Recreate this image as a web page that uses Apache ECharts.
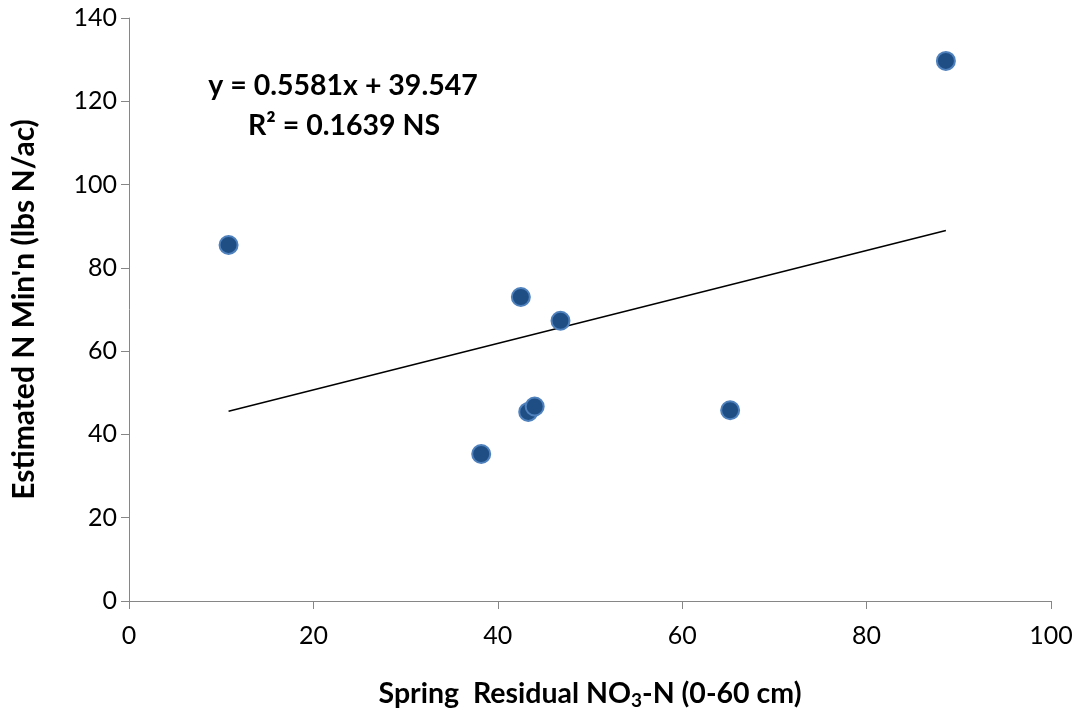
<!DOCTYPE html>
<html>
<head>
<meta charset="utf-8">
<script src="https://cdn.jsdelivr.net/npm/echarts@6/dist/echarts.min.js"></script>
<style>html,body{margin:0;padding:0;background:#fff}#c{width:1083px;height:712px}</style>
</head>
<body>
<div id="c"></div>
<script>
const xValues = [10.8, 38.2, 42.5, 43.3, 44.0, 46.8, 65.2, 88.6];
const yValues = [85.5, 35.3, 73.0, 45.4, 46.7, 67.3, 45.8, 129.7];
const slope = 0.5581;
const intercept = 39.547;
const trendRange = [10.8, 88.6];
const xTicks = [0, 20, 40, 60, 80, 100];
const yTicks = [0, 20, 40, 60, 80, 100, 120, 140];
const eqText = 'y = 0.5581x + 39.547';
const r2Text = 'R² = 0.1639 NS';

const points = xValues.map((x, i) => [x, yValues[i]]);
const trend = trendRange.map(x => [x, slope * x + intercept]);
const FONT = 'Lato, "Open Sans", sans-serif';

const chart = echarts.init(document.getElementById('c'), null, {renderer: 'canvas'});
chart.setOption({
  animation: false,
  grid: {left: 129, right: 32, top: 18, bottom: 111, containLabel: false, outerBoundsMode: 'none'},
  xAxis: {
    type: 'value', min: xTicks[0], max: xTicks[xTicks.length - 1], interval: 20,
    axisLine: {show: true, lineStyle: {color: '#868686', width: 1}},
    axisTick: {show: true, length: 8, lineStyle: {color: '#868686'}},
    splitLine: {show: false},
    axisLabel: {color: '#000', fontSize: 25, fontFamily: FONT, margin: 22},
    name: 'Spring  Residual NO{sub|3}-N (0-60 cm)',
    nameLocation: 'middle', nameGap: 76,
    nameTextStyle: {
      color: '#000', fontSize: 28.5, fontWeight: 'bold', fontFamily: FONT,
      rich: {sub: {fontSize: 19, fontWeight: 'bold', fontFamily: FONT, color: '#000', padding: [14, 0, 0, 0]}}
    }
  },
  yAxis: {
    type: 'value', min: yTicks[0], max: yTicks[yTicks.length - 1], interval: 20,
    axisLine: {show: true, onZero: false, lineStyle: {color: '#868686', width: 1}},
    axisTick: {show: true, length: 8, lineStyle: {color: '#868686'}},
    splitLine: {show: false},
    axisLabel: {color: '#000', fontSize: 25, fontFamily: FONT, margin: 12},
    name: "Estimated N Min'n (lbs N/ac)",
    nameLocation: 'middle', nameGap: 90, nameRotate: 90,
    nameTextStyle: {color: '#000', fontSize: 30, fontWeight: 'bold', fontFamily: FONT}
  },
  series: [
    {
      type: 'line', data: trend, symbol: 'none', silent: true,
      lineStyle: {color: '#000', width: 1.5}, z: 2
    },
    {
      type: 'scatter', data: points, symbol: 'circle', symbolSize: 18,
      itemStyle: {color: '#1F4E85', borderColor: '#4F81BD', borderWidth: 2, opacity: 1}, z: 3
    }
  ],
  graphic: [
    {type: 'text', x: 343, y: 86, style: {text: eqText, x: 0, y: 0, align: 'center', verticalAlign: 'middle', fill: '#000', font: 'bold 28.5px ' + FONT}},
    {type: 'text', x: 344, y: 126, style: {text: r2Text, x: 0, y: 0, align: 'center', verticalAlign: 'middle', fill: '#000', font: 'bold 28.5px ' + FONT}}
  ]
});
</script>
</body>
</html>
